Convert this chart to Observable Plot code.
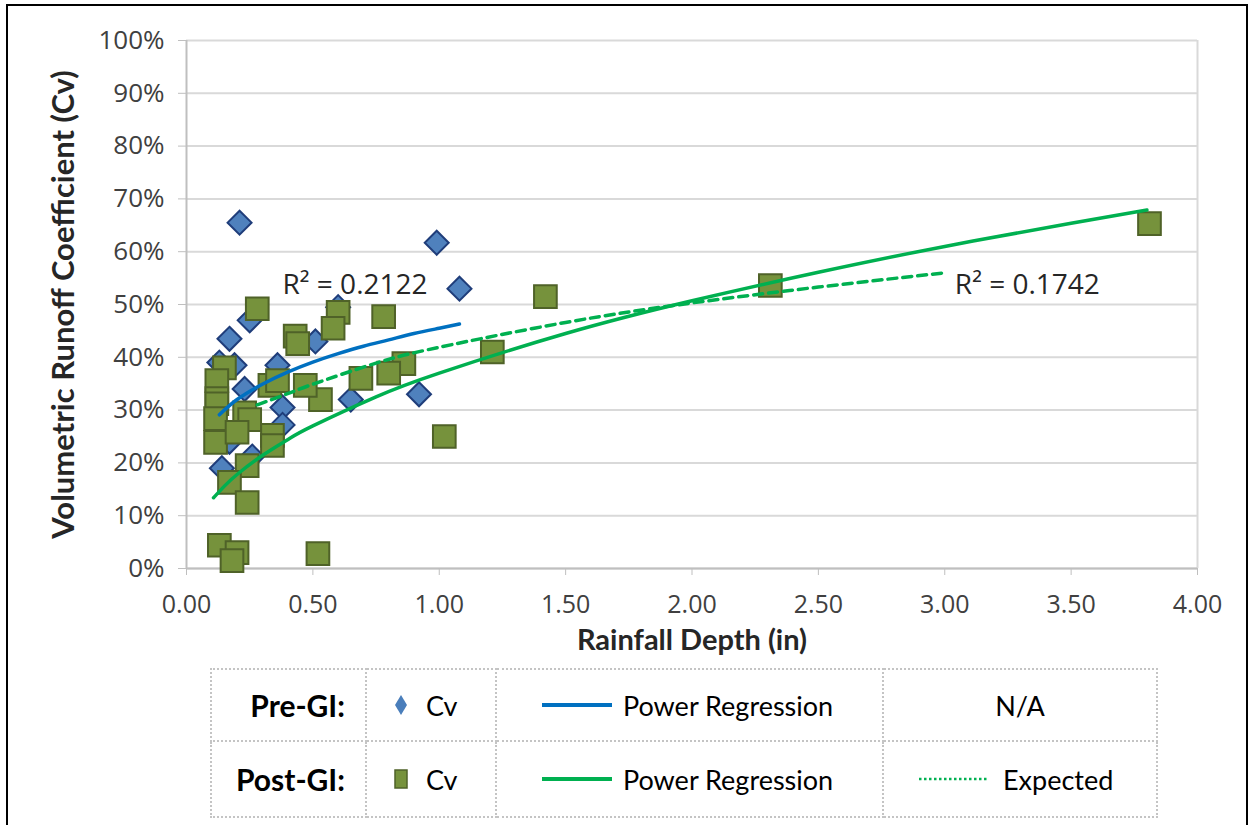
<!DOCTYPE html>
<html>
<head>
<meta charset="utf-8">
<script src="https://cdn.jsdelivr.net/npm/d3@7"></script>
<script src="https://cdn.jsdelivr.net/npm/@observablehq/plot@0.6"></script>
<style>
  html, body { margin: 0; padding: 0; background: #fff; }
  #wrap { position: relative; width: 1252px; height: 825px; overflow: hidden; }
  #frame { position: absolute; left: 6px; top: 4px; width: 1242px; height: 840px; border: 2px solid #000; box-sizing: border-box; pointer-events: none; }
  #chart { position: absolute; left: 0; top: 0; }
  #legend { position: absolute; left: 210px; top: 668px; }
  #legend table { border-collapse: collapse; font-family: Lato, "Open Sans", sans-serif; color: #000; }
  #legend td { border: 2px dotted #c4c4c4; padding: 0; font-size: 27px; }
  #legend .hdr { font-weight: bold; font-size: 30px; text-align: right; padding-right: 20px; }
  #legend .cell { display: flex; align-items: center; }
</style>
</head>
<body>
<div id="wrap">
  <div id="chart"></div>
  <div id="legend">
    <table>
      <tr style="height:72px">
        <td class="hdr" style="width:133px">Pre-GI:</td>
        <td style="width:128px"><div class="cell" style="padding-left:27px">
          <svg width="14" height="22"><polygon points="7,1 13,11 7,21 1,11" fill="#4a7ebb"/></svg>
          <span style="margin-left:18px">Cv</span></div></td>
        <td style="width:385px"><div class="cell" style="padding-left:45px">
          <svg width="70" height="6"><line x1="0" y1="3" x2="70" y2="3" stroke="#0070c0" stroke-width="4"/></svg>
          <span style="margin-left:11px">Power Regression</span></div></td>
        <td style="width:272px; text-align:center">N/A</td>
      </tr>
      <tr style="height:76px">
        <td class="hdr">Post-GI:</td>
        <td><div class="cell" style="padding-left:27px">
          <svg width="14" height="20"><rect x="1" y="1" width="12" height="18" fill="#76923c" stroke="#4f6228" stroke-width="1.5"/></svg>
          <span style="margin-left:18px">Cv</span></div></td>
        <td><div class="cell" style="padding-left:45px">
          <svg width="70" height="6"><line x1="0" y1="3" x2="70" y2="3" stroke="#00b050" stroke-width="4"/></svg>
          <span style="margin-left:11px">Power Regression</span></div></td>
        <td><div class="cell" style="padding-left:35px">
          <svg width="68" height="6"><line x1="0" y1="3" x2="68" y2="3" stroke="#00b050" stroke-width="2.5" stroke-dasharray="2.5,2.5"/></svg>
          <span style="margin-left:16px">Expected</span></div></td>
      </tr>
    </table>
  </div>
  <div id="frame"></div>
</div>
<script>
// ---- Data ----
const xTicks = [0, 0.5, 1.0, 1.5, 2.0, 2.5, 3.0, 3.5, 4.0];
const yTicks = [0, 0.1, 0.2, 0.3, 0.4, 0.5, 0.6, 0.7, 0.8, 0.9, 1.0];

// Pre-GI Cv (blue diamonds)
const preX = [0.21, 0.99, 1.08, 0.60, 0.25, 0.17, 0.51, 0.13, 0.19, 0.36, 0.23, 0.38, 0.38, 0.17, 0.26, 0.14, 0.65, 0.92];
const preY = [0.655, 0.617, 0.530, 0.495, 0.470, 0.435, 0.430, 0.390, 0.385, 0.385, 0.340, 0.305, 0.272, 0.240, 0.212, 0.190, 0.320, 0.330];

// Post-GI Cv (green squares)
const postX = [3.81, 2.31, 1.42, 1.21, 1.02, 0.86, 0.80, 0.78, 0.69, 0.60, 0.58, 0.53, 0.47, 0.43, 0.44, 0.52, 0.28, 0.33, 0.36, 0.34, 0.34, 0.15, 0.12, 0.12, 0.12, 0.115, 0.115, 0.23, 0.25, 0.20, 0.24, 0.17, 0.24, 0.13, 0.20, 0.18];
const postY = [0.653, 0.536, 0.515, 0.410, 0.250, 0.388, 0.370, 0.477, 0.360, 0.485, 0.455, 0.320, 0.347, 0.440, 0.426, 0.028, 0.492, 0.347, 0.356, 0.252, 0.233, 0.380, 0.356, 0.322, 0.312, 0.284, 0.239, 0.295, 0.282, 0.258, 0.195, 0.163, 0.125, 0.044, 0.030, 0.015];

// Trendlines
const preFitX = [0.13, 0.2, 0.3, 0.4, 0.5, 0.6, 0.7, 0.8, 0.9, 1.0, 1.08];
const preFitY = [0.291, 0.320, 0.349, 0.372, 0.391, 0.407, 0.421, 0.433, 0.445, 0.455, 0.463];
const postFitX = [0.107, 0.15, 0.2, 0.3, 0.4, 0.5, 0.75, 1.0, 1.5, 2.0, 2.5, 3.0, 3.5, 3.8];
const postFitY = [0.134, 0.156, 0.178, 0.214, 0.244, 0.270, 0.325, 0.370, 0.445, 0.507, 0.561, 0.610, 0.654, 0.679];
const expX = [0.28, 0.4, 0.5, 0.75, 1.0, 1.5, 2.0, 2.5, 3.0];
const expY = [0.31, 0.331, 0.349, 0.389, 0.419, 0.466, 0.503, 0.533, 0.560];

const r2Labels = ["R\u00b2 = 0.2122", "R\u00b2 = 0.1742"];
const r2X = [0.38, 3.04];
const r2Y = [0.536, 0.536];

const xTitle = "Rainfall Depth (in)";
const yTitle = "Volumetric Runoff Coefficient (Cv)";

// ---- Build tables ----
const pre = preX.map((x, i) => ({x, y: preY[i]}));
const post = postX.map((x, i) => ({x, y: postY[i]}));
const preFit = preFitX.map((x, i) => ({x, y: preFitY[i]}));
const postFit = postFitX.map((x, i) => ({x, y: postFitY[i]}));
const expFit = expX.map((x, i) => ({x, y: expY[i]}));
const r2 = r2Labels.map((t, i) => ({t, x: r2X[i], y: r2Y[i]}));

const tickFont = "'Open Sans', sans-serif";
const chart = Plot.plot({
  width: 1252,
  height: 665,
  marginLeft: 186,
  marginRight: 55,
  marginTop: 40,
  marginBottom: 97,
  style: {fontFamily: tickFont, fontSize: "25px", color: "#404040", background: "transparent"},
  x: {domain: [0, 4]},
  y: {domain: [0, 1]},
  marks: [
    Plot.gridY(yTicks, {stroke: "#d9d9d9", strokeOpacity: 1, strokeWidth: 2}),
    Plot.ruleX([4], {stroke: "#d9d9d9", strokeWidth: 2}),
    Plot.ruleX([0], {stroke: "#bfbfbf", strokeWidth: 2}),
    Plot.ruleY([0], {stroke: "#bfbfbf", strokeWidth: 2}),
    Plot.axisY(yTicks, {tickSize: 8, tickPadding: 14, stroke: "#bfbfbf", fill: "#404040", label: null,
      tickFormat: d => Math.round(d * 100) + "%", fontSize: 26, fontFamily: tickFont}),
    Plot.axisX(xTicks, {tickSize: 7, tickPadding: 20, stroke: "#bfbfbf", fill: "#404040", label: null,
      tickFormat: d => d.toFixed(2), fontSize: 25, fontFamily: tickFont}),
    Plot.text([xTitle], {frameAnchor: "bottom", dy: 81, fontSize: 29, fontWeight: "bold",
      fontFamily: "Lato, sans-serif", fill: "#262626"}),
    Plot.text([yTitle], {frameAnchor: "left", textAnchor: "middle", dx: -122, rotate: -90, fontSize: 31, fontWeight: "bold",
      fontFamily: "Lato, sans-serif", fill: "#262626"}),
    Plot.dot(pre, {x: "x", y: "y", symbol: "diamond2", r: 10.8, fill: "#4f81bd", stroke: "#1f3d7a", strokeWidth: 2}),
    Plot.dot(post, {x: "x", y: "y", symbol: "square", r: 12.8, fill: "#76923c", stroke: "#4f6228", strokeWidth: 2}),
    Plot.line(preFit, {x: "x", y: "y", stroke: "#0070c0", strokeWidth: 3.5, curve: "natural"}),
    Plot.line(expFit, {x: "x", y: "y", stroke: "#00b050", strokeWidth: 3.5, strokeDasharray: "9,6", curve: "natural"}),
    Plot.line(postFit, {x: "x", y: "y", stroke: "#00b050", strokeWidth: 3.5, curve: "natural"}),
    Plot.text(r2, {x: "x", y: "y", text: "t", textAnchor: "start", fontSize: 28, fontFamily: tickFont, fill: "#262626"})
  ]
});
document.getElementById("chart").appendChild(chart);
</script>
</body>
</html>
